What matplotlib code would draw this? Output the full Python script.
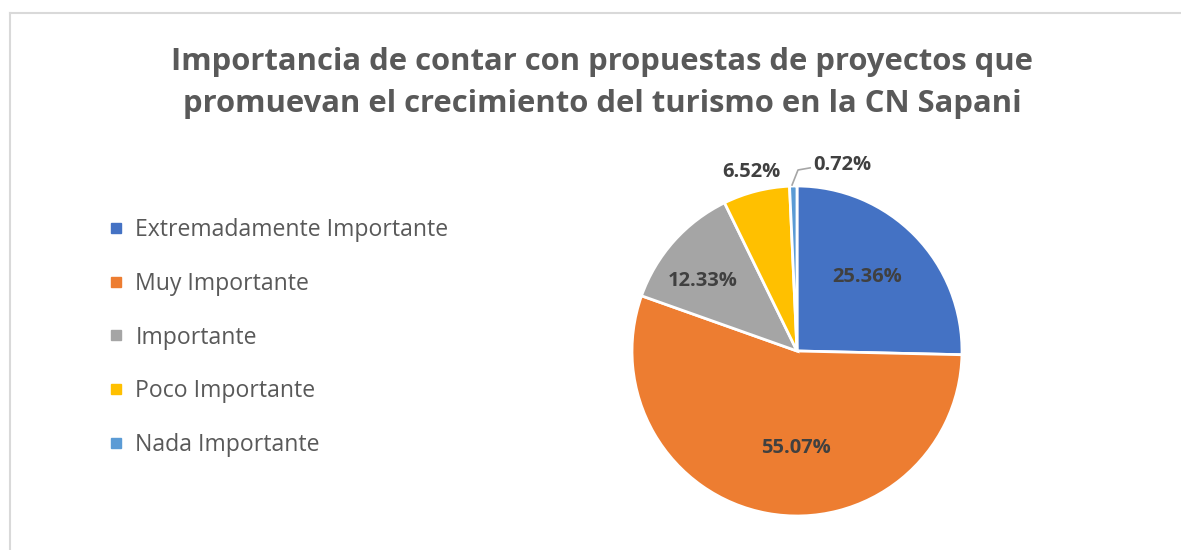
import numpy as np
import matplotlib.pyplot as plt
from matplotlib.lines import Line2D

categories = ['Extremadamente Importante', 'Muy Importante', 'Importante',
              'Poco Importante', 'Nada Importante']
values = [25.36, 55.07, 12.33, 6.52, 0.72]
colors = ['#4472C4', '#ED7D31', '#A5A5A5', '#FFC000', '#5B9BD5']
title = ('Importancia de contar con propuestas de proyectos que\n'
         'promuevan el crecimiento del turismo en la CN Sapani')

plt.rcParams['font.family'] = ['Open Sans', 'DejaVu Sans']

fig = plt.figure(figsize=(11.81, 5.5), dpi=100)

# light chart border (top + left, as in the reference crop)
fig.add_artist(Line2D([10/1181, 1.0], [1 - 13/550, 1 - 13/550],
                      transform=fig.transFigure, color='#D9D9D9', lw=1.5))
fig.add_artist(Line2D([10/1181, 10/1181], [0.0, 1 - 13/550],
                      transform=fig.transFigure, color='#D9D9D9', lw=1.5))

fig.text(602/1181, 1 - 83/550, title, ha='center', va='center',
         fontsize=22.3, fontweight='bold', color='#595959', linespacing=1.48)

# pie axes: center (797, 351), radius 165 px
ax = fig.add_axes([(797 - 165)/1181, 1 - (351 + 165)/550, 330/1181, 330/550])
wedges, _ = ax.pie(values, colors=colors, startangle=90, counterclock=False,
                   radius=1.0, wedgeprops=dict(edgecolor='white', linewidth=2))
ax.set_xlim(-1, 1)
ax.set_ylim(-1, 1)
ax.set_aspect('equal')
ax.axis('off')

# label placement (radius as fraction of R, small angle nudge in degrees)
label_r = [0.62, 0.59, 0.71, 1.12]
label_da = [2, 10, 5, 0]
for i, w in enumerate(wedges[:4]):
    mid = np.deg2rad((w.theta1 + w.theta2) / 2 + label_da[i])
    ax.text(label_r[i] * np.cos(mid), label_r[i] * np.sin(mid),
            '%.2f%%' % values[i], ha='center', va='center',
            fontsize=14.5, fontweight='bold', color='#404040', clip_on=False)

# small slice: label with leader line
ax.add_line(Line2D([-0.03, 0.006, 0.08], [1.006, 1.097, 1.11],
                   color='#A6A6A6', lw=1.2, clip_on=False))
ax.text(0.1, 1.13, '%.2f%%' % values[4], ha='left', va='center',
        fontsize=14.5, fontweight='bold', color='#404040', clip_on=False)

handles = [Line2D([], [], ls='none', marker='s', markersize=7,
                  markerfacecolor=c, markeredgecolor=c) for c in colors]
leg = fig.legend(handles, categories, loc='center left',
                 bbox_to_anchor=(110/1181, 1 - 337.5/550),
                 bbox_transform=fig.transFigure, frameon=False,
                 fontsize=16.6, labelcolor='#595959', handlelength=0.55,
                 handletextpad=0.55, labelspacing=1.29, borderpad=0,
                 borderaxespad=0)

fig.savefig('out.png', dpi=100)
